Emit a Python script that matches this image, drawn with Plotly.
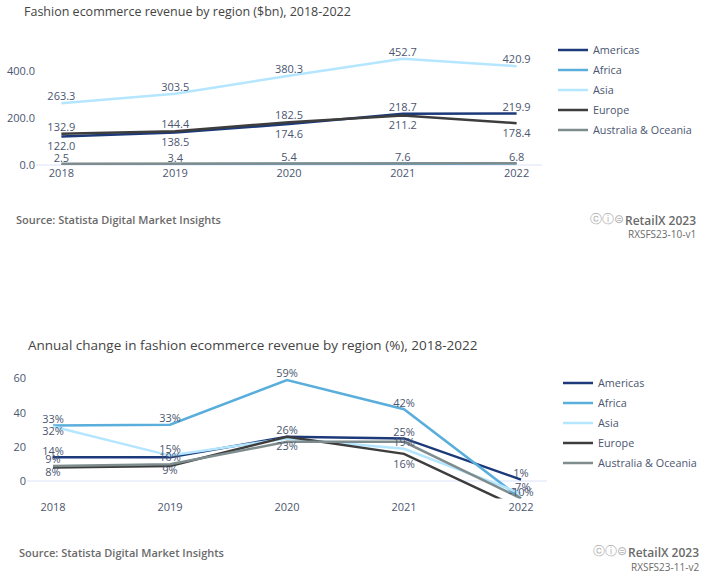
import plotly.graph_objects as go

W, H = 718, 588
years = ["2018", "2019", "2020", "2021", "2022"]
regions = ["Americas", "Africa", "Asia", "Europe", "Australia & Oceania"]
colors = ["#1c3a7a", "#5aaedb", "#b5e6ff", "#3d3d3d", "#7f8c8d"]

rev_americas = [122.0, 138.5, 174.6, 218.7, 219.9]
rev_africa = [2.5, 3.4, 5.4, 7.6, 6.8]
rev_asia = [263.3, 303.5, 380.3, 452.7, 420.9]
rev_europe = [132.9, 144.4, 182.5, 211.2, 178.4]
rev_oceania = [5.5, 6.0, 7.4, 9.0, 8.1]

chg_americas = [14, 14, 26, 25, 1]
chg_africa = [32.6, 33, 59, 42, -10]
chg_asia = [32, 15, 25, 19, -7]
chg_europe = [8, 9, 26, 16, -16]
chg_oceania = [9, 10, 23, 23, -10]

rev_labels = [
    ["122.0", "138.5", "174.6", "218.7", "219.9"],
    ["2.5", "3.4", "5.4", "7.6", "6.8"],
    ["263.3", "303.5", "380.3", "452.7", "420.9"],
    ["132.9", "144.4", "182.5", "211.2", "178.4"],
    ["", "", "", "", ""],
]
rev_pos = [
    ["bottom center", "bottom center", "bottom center", "top center", "top center"],
    ["top center"] * 5,
    ["top center"] * 5,
    ["top center", "top center", "top center", "bottom center", "bottom center"],
    ["top center"] * 5,
]
chg_labels = [
    ["14%", "", "", "25%", "1%"],
    ["33%", "33%", "59%", "42%", "-10%"],
    ["32%", "15%", "", "19%", "-7%"],
    ["8%", "9%", "26%", "16%", ""],
    ["9%", "10%", "23%", "", ""],
]
chg_pos = [
    ["top center"] * 5,
    ["top center"] * 5,
    ["bottom center", "top center", "top center", "top center", "top center"],
    ["bottom center", "bottom center", "top center", "bottom center", "top center"],
    ["top center", "top center", "bottom center", "top center", "top center"],
]

TXT = "#4b5670"
FONT = "Open Sans"
CLEAR = "rgba(0,0,0,0)"
fig = go.Figure()
rev = [rev_americas, rev_africa, rev_asia, rev_europe, rev_oceania]
chg = [chg_americas, chg_africa, chg_asia, chg_europe, chg_oceania]

def add_lines(values, names, xa, ya, leg, prefix):
    for i, r in enumerate(names):
        fig.add_trace(go.Scatter(x=years, y=values[i], name=r, mode="lines",
                                 line=dict(color=colors[i], width=2.5), xaxis=xa, yaxis=ya,
                                 legend=leg, legendgroup=prefix + r, hoverinfo="skip"))

def add_labels(values, labels, positions, gaps, xa, ya):
    for i in range(len(values)):
        fig.add_trace(go.Scatter(x=years, y=values[i], mode="markers+text", text=labels[i],
                                 textposition=positions[i], showlegend=False, hoverinfo="skip",
                                 marker=dict(size=gaps[i], color=CLEAR, opacity=0, line=dict(width=0, color=CLEAR)),
                                 textfont=dict(size=11, color=TXT, family=FONT), xaxis=xa, yaxis=ya))

rev_gaps = [[7 if p.startswith("bottom") else 0 for p in row] for row in rev_pos]
chg_gaps = [[0] * 5 for _ in chg_pos]
chg_gaps[3][3] = 8

add_lines(rev, regions, "x", "y", "legend", "a")
add_labels(rev, rev_labels, rev_pos, rev_gaps, "x", "y")
add_lines(chg, regions, "x2", "y2", "legend2", "b")
add_labels(chg, chg_labels, chg_pos, chg_gaps, "x2", "y2")

def ymap(y):
    return (y + 1) / 0.9875
def dx(a, b):
    return [a / W, b / W]
def dy(top, bottom):
    return [1 - ymap(bottom) / H, 1 - ymap(top) / H]

xcommon = dict(type="category", showgrid=False, ticks="", showline=False,
               tickfont=dict(size=11, color=TXT, family=FONT), zeroline=False)
ycommon = dict(showgrid=False, ticks="", showline=False, zeroline=True, zerolinecolor="#edf1fb",
               zerolinewidth=2, tickfont=dict(size=11, color=TXT, family=FONT))

def note(x, y, text, size, color="#666666", anchor="left", family=FONT, weight=400):
    return dict(x=x / W, y=1 - ymap(y) / H, xref="paper", yref="paper", text=text, showarrow=False,
                xanchor=anchor, yanchor="middle", font=dict(size=size, color=color, family=family, weight=weight))

annotations = [
    note(22, 10, "Fashion ecommerce revenue by region ($bn), 2018-2022", 12.5, "#444444"),
    note(26, 344, "Annual change in fashion ecommerce revenue by region (%), 2018-2022", 13.5, "#444444"),
    note(14, 218, "Source: Statista Digital Market Insights", 11, "#6a6a6a", weight=600),
    note(17, 551, "Source: Statista Digital Market Insights", 11, "#6a6a6a", weight=600),
    note(698, 219, "RetailX 2023", 12, "#6a6a6a", "right", weight=600),
    note(698, 233, "RXSFS23-10-v1", 10, "#6a6a6a", "right"),
    note(701, 551, "RetailX 2023", 12, "#6a6a6a", "right", weight=600),
    note(701, 566, "RXSFS23-11-v2", 10, "#6a6a6a", "right"),
    note(626, 218, "ⓒⓘ⊜", 12, "#b0b0b0", "right", "DejaVu Sans"),
    note(629, 550, "ⓒⓘ⊜", 12, "#b0b0b0", "right", "DejaVu Sans"),
]

legend_common = dict(font=dict(size=10.8, color=TXT, family=FONT), bgcolor=CLEAR,
                     tracegroupgap=1, xanchor="left", yanchor="top", itemclick=False, itemdoubleclick=False)

fig.update_layout(
    width=W, height=H, autosize=False, margin=dict(l=0, r=0, t=0, b=0),
    paper_bgcolor="white", plot_bgcolor="white", showlegend=True, annotations=annotations,
    xaxis=dict(domain=dx(36, 542), range=[-0.223, 4.223], anchor="y", **xcommon),
    yaxis=dict(domain=dy(46.5, 164), range=[0, 500], dtick=200, tickformat=".1f", anchor="x", **ycommon),
    xaxis2=dict(domain=dx(27, 547), range=[-0.222, 4.222], anchor="y2", **xcommon),
    yaxis2=dict(domain=dy(360, 497.2), range=[-10, 70], dtick=20, anchor="x2", **ycommon),
    legend=dict(x=553 / W, y=1 - 36 / H, **legend_common),
    legend2=dict(x=558 / W, y=1 - 373 / H, **legend_common),
)
fig.update_traces(cliponaxis=False, selector=dict(yaxis="y"))
fig.write_html("out.html", config={"displayModeBar": False, "responsive": False},
               post_script="document.body.style.margin='0';document.documentElement.style.margin='0';")
